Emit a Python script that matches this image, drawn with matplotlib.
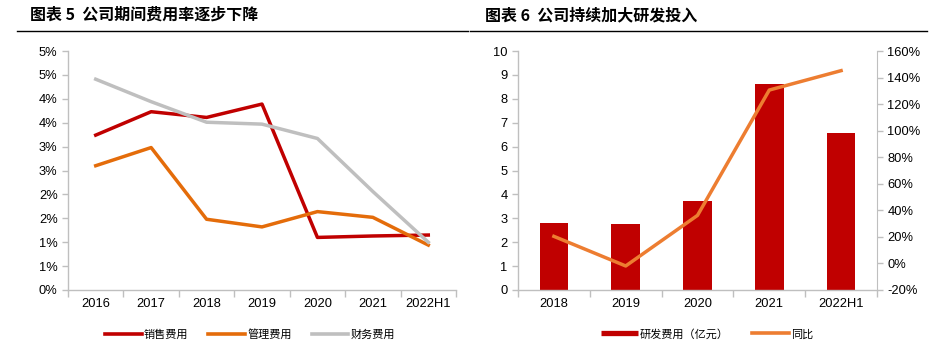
import matplotlib.pyplot as plt
from matplotlib.ticker import FixedLocator, FuncFormatter
from matplotlib.lines import Line2D

plt.rcParams['font.family'] = ['Liberation Sans', 'Noto Sans CJK SC', 'DejaVu Sans']

# left chart: expense ratios (%)
years_l = ['2016', '2017', '2018', '2019', '2020', '2021', '2022H1']
sales_exp = [3.24, 3.73, 3.61, 3.89, 1.10, 1.13, 1.15]
admin_exp = [2.60, 2.98, 1.48, 1.32, 1.64, 1.52, 0.94]
fin_exp = [4.41, 3.94, 3.51, 3.47, 3.17, 2.06, 1.00]

# right chart: R&D spending (100M yuan) and yoy growth (%)
years_r = ['2018', '2019', '2020', '2021', '2022H1']
rd_spend = [2.82, 2.75, 3.74, 8.62, 6.56]
rd_yoy = [20.4, -1.9, 36.2, 130.6, 145.2]

W, H = 945, 352
fig = plt.figure(figsize=(W / 100, H / 100), dpi=100)
cjk = ['Noto Sans CJK SC', 'DejaVu Sans']
axis_grey = '#BFBFBF'
tick_fs = 9.3


def px(x0, y0, w, h):
    return [x0 / W, 1 - (y0 + h) / H, w / W, h / H]


def style(ax):
    for s in ['top', 'right']:
        ax.spines[s].set_visible(False)
    for s in ['left', 'bottom']:
        ax.spines[s].set_color(axis_grey)
        ax.spines[s].set_linewidth(1)
    ax.tick_params(axis='both', colors=axis_grey, labelcolor='black',
                   labelsize=tick_fs, length=4, width=1)
    ax.tick_params(axis='x', which='major', length=0, pad=6)
    ax.tick_params(axis='x', which='minor', length=5, width=1, colors=axis_grey)


# titles + underlines
fig.text(30 / W, 1 - 20 / H, '图表 5  公司期间费用率逐步下降', family=cjk,
         fontsize=11.5, fontweight='bold', va='baseline')
fig.text(485 / W, 1 - 20 / H, '图表 6  公司持续加大研发投入', family=cjk,
         fontsize=11.5, fontweight='bold', va='baseline')
fig.add_artist(Line2D([17 / W, 468 / W], [1 - 31 / H] * 2, color='black', lw=1))
fig.add_artist(Line2D([470 / W, 927 / W], [1 - 31 / H] * 2, color='black', lw=1))

# left chart
ax1 = fig.add_axes(px(68, 51, 388, 239))
x = range(len(years_l))
ax1.plot(x, sales_exp, color='#C00000', lw=2.5, label='销售费用')
ax1.plot(x, admin_exp, color='#E46C0A', lw=2.5, label='管理费用')
ax1.plot(x, fin_exp, color='#BFBFBF', lw=2.5, label='财务费用')
ax1.set_xlim(-0.5, len(years_l) - 0.5)
ax1.set_ylim(0, 5)
ax1.set_xticks(list(x))
ax1.set_xticklabels(years_l)
ax1.xaxis.set_minor_locator(FixedLocator([i - 0.5 for i in range(len(years_l) + 1)]))
ax1.set_yticks([i * 0.5 for i in range(11)])
ax1.yaxis.set_major_formatter(FuncFormatter(lambda v, p: '%d%%' % int(v + 0.5)))
style(ax1)

# right chart
ax2 = fig.add_axes(px(518, 51, 359, 239))
xr = range(len(years_r))
ax2.bar(xr, rd_spend, width=0.4, color='#C00000', label='研发费用（亿元）')
ax2.set_xlim(-0.5, len(years_r) - 0.5)
ax2.set_ylim(0, 10)
ax2.set_yticks(range(0, 11))
ax2.set_xticks(list(xr))
ax2.set_xticklabels(years_r)
ax2.xaxis.set_minor_locator(FixedLocator([i - 0.5 for i in range(len(years_r) + 1)]))
style(ax2)

ax3 = ax2.twinx()
ax3.plot(xr, rd_yoy, color='#ED7D31', lw=2.5, label='同比')
ax3.set_ylim(-20, 160)
ax3.set_yticks(range(-20, 161, 20))
ax3.yaxis.set_major_formatter(FuncFormatter(lambda v, p: '%d%%' % v))
for s in ['top', 'left', 'bottom']:
    ax3.spines[s].set_visible(False)
ax3.spines['right'].set_color(axis_grey)
ax3.tick_params(axis='y', colors=axis_grey, labelcolor='black',
                labelsize=tick_fs, length=4, width=1)

# legends
leg_kw = dict(frameon=False, handlelength=3.3, handletextpad=0.2,
              borderpad=0, borderaxespad=0,
              prop={'family': cjk, 'size': 8}, loc='center left')
h1 = [Line2D([], [], color=c, lw=2.6) for c in ['#C00000', '#E46C0A', '#BFBFBF']]
fig.legend(h1, ['销售费用', '管理费用', '财务费用'], ncol=3, columnspacing=1.8,
           bbox_to_anchor=(105 / W, 1 - 334 / H), **leg_kw)
h2 = [Line2D([], [], color='#C00000', lw=3.8, solid_capstyle='butt'),
      Line2D([], [], color='#ED7D31', lw=2.6)]
fig.legend(h2, ['研发费用（亿元）', '同比'], ncol=2, columnspacing=2.1,
           bbox_to_anchor=(601 / W, 1 - 334 / H), **leg_kw)

fig.savefig('out.png', dpi=100)
